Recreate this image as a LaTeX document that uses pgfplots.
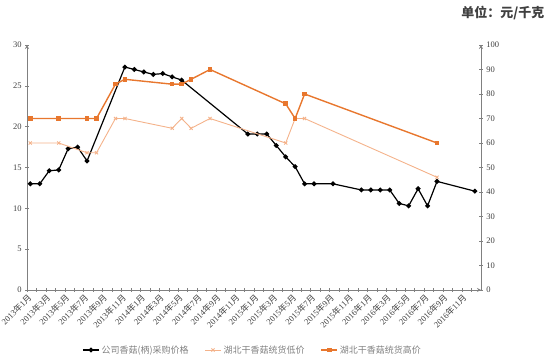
\documentclass[border=0pt]{standalone}
\usepackage{pgfplots}
\pgfplotsset{compat=1.18}
\usepackage{fontspec}
\setmainfont{Liberation Serif}
\newfontfamily\cjk{Noto Sans CJK SC}
\definecolor{hi}{HTML}{E8772E}
\definecolor{lo}{HTML}{F4B28A}
\definecolor{axg}{HTML}{808080}
\definecolor{txt}{HTML}{404040}
\newcommand{\ym}[2]{#1{\cjk 年}#2{\cjk 月}}
\begin{document}
\begin{tikzpicture}[x=1pt,y=1pt]
\pgfplotsset{
  base/.style={
    scale only axis, width=454pt, height=245pt,
    at={(0,0)}, anchor=south west,
    xmin=-0.35, xmax=47.65,
    axis line style={axg, line width=0.8pt, -},
    tick style={axg, line width=0.6pt},
    tick align=outside,
    major tick length=3.5pt, minor tick length=3.5pt,
    /pgf/number format/assume math mode=true,
    tick label style={font=\fontsize{8.5}{9}\selectfont, text=txt},
    clip=false,
  }
}
\begin{axis}[base,
  axis x line=bottom, axis y line=left,
  ymin=0, ymax=30, ytick={0,5,...,30},
  xtick={-0.35,1.65,...,45.7},
  minor xtick={0.65,2.65,...,47.7},
  xticklabels={\ym{2013}{1},\ym{2013}{3},\ym{2013}{5},\ym{2013}{7},\ym{2013}{9},\ym{2013}{11},
    \ym{2014}{1},\ym{2014}{3},\ym{2014}{5},\ym{2014}{7},\ym{2014}{9},\ym{2014}{11},
    \ym{2015}{1},\ym{2015}{3},\ym{2015}{5},\ym{2015}{7},\ym{2015}{9},\ym{2015}{11},
    \ym{2016}{1},\ym{2016}{3},\ym{2016}{5},\ym{2016}{7},\ym{2016}{9},\ym{2016}{11}},
  x tick label style={rotate=45, anchor=north east, inner sep=1pt, font=\fontsize{8.5}{9}\selectfont},
]
\addplot[black, line width=1.2pt, mark=*, mark size=1.8pt] coordinates {
(0,13.0)(1,13.0)(2,14.6)(3,14.7)(4,17.3)(5,17.5)(6,15.8)
(10,27.3)(11,27.0)(12,26.7)(13,26.4)(14,26.5)(15,26.1)(16,25.7)
(23,19.1)(24,19.1)(25,19.1)(26,17.7)(27,16.3)(28,15.1)(29,13.0)(30,13.0)(32,13.0)
(35,12.25)(36,12.25)(37,12.25)(38,12.25)(39,10.6)(40,10.3)(41,12.4)(42,10.3)(43,13.3)(47,12.1)
};
\end{axis}
\begin{axis}[base,
  axis x line=none, axis y line=right,
  ymin=0, ymax=100, ytick={0,10,...,100},
  every axis title shift=0pt,
  title={\cjk\bfseries 单位：元/千克},
  title style={at={(1.048,1.131)}, anchor=center, inner sep=0pt, font=\fontsize{13}{13}\selectfont, text=txt},
  legend columns=3,
  legend style={at={(0.497,-0.245)}, anchor=center, draw=none, fill=none,
    font=\cjk\fontsize{9}{10}\selectfont, text=axg,
    /tikz/every even column/.append style={column sep=14pt}},
  legend image code/.code={\draw[#1,mark=none] (0pt,0pt) -- (16pt,0pt); \draw[#1] plot coordinates {(8pt,0pt)};},
]
\addlegendimage{black, line width=1.2pt, mark=*, mark size=1.8pt}
\addlegendentry{公司香菇(柄)采购价格}
\addplot[lo, line width=0.9pt, mark=x, mark size=2.2pt] coordinates {
(0,60)(3,60)(6,56)(7,56)(9,70)(10,70)(15,66)(16,70)(17,66)(19,70)(27,60)(28,70)(29,70)(43,46)
};
\addlegendentry{湖北干香菇统货低价}
\addplot[hi, line width=1.4pt, mark=square*, mark size=1.6pt] coordinates {
(0,70)(3,70)(6,70)(7,70)(9,84)(10,86)(15,84)(16,84)(17,86)(19,90)(27,76)(28,70)(29,80)(43,60)
};
\addlegendentry{湖北干香菇统货高价}
\end{axis}
\pgfresetboundingbox
\path (-27,-68) rectangle (523,290);
\end{tikzpicture}
\end{document}
